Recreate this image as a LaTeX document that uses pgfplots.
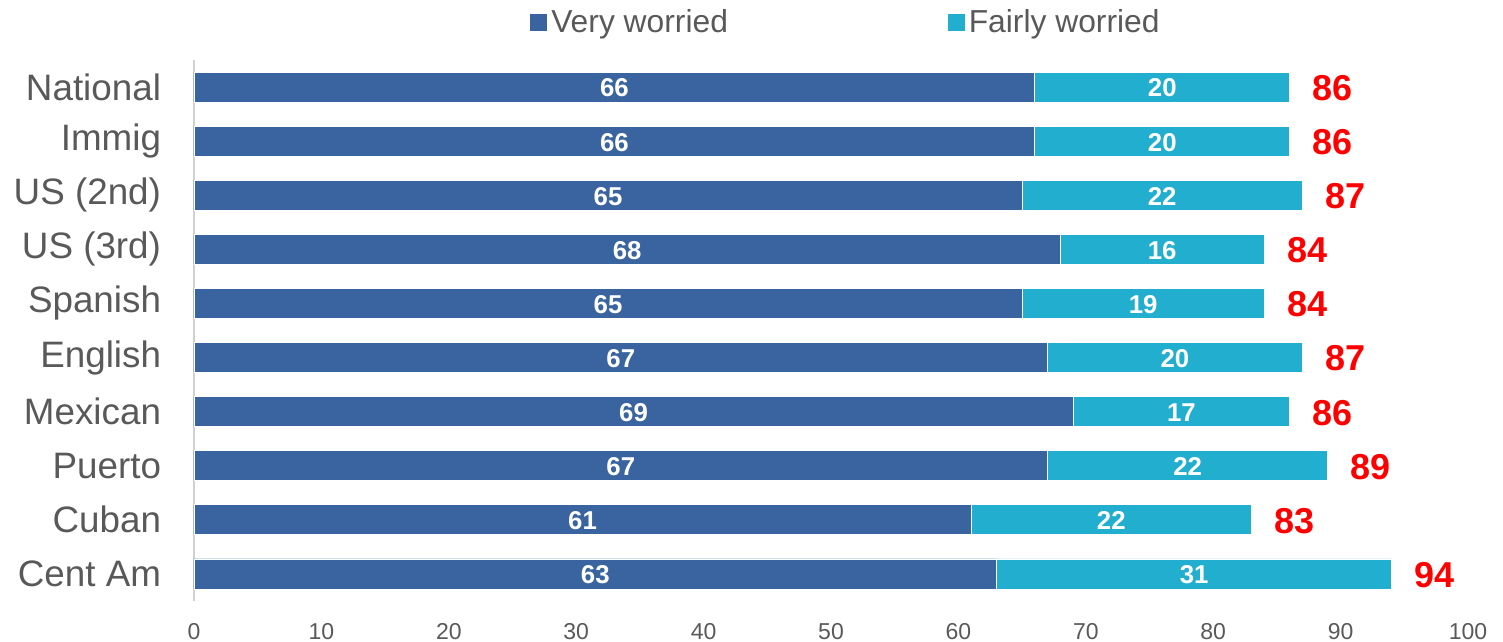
\documentclass[border=0pt]{standalone}
\usepackage{pgfplots}
\pgfplotsset{compat=1.18}
\usepackage{pgfplotstable}
\usepackage{fontspec}
\setmainfont{Liberation Sans}
\definecolor{vw}{HTML}{3A64A0}
\definecolor{fw}{HTML}{21AECF}
\definecolor{txt}{HTML}{595959}
\pgfplotstableread{
very fairly total
66 20 86
66 20 86
65 22 87
68 16 84
65 19 84
67 20 87
69 17 86
67 22 89
61 22 83
63 31 94
}\datatable
\begin{document}
\begin{tikzpicture}
\begin{axis}[
  scale only axis, width=637pt, height=270.5pt,
  xmin=0, xmax=100, ymin=-0.5, ymax=9.5, y dir=reverse,
  xtick={0,10,...,100}, ytick={0,...,9},
  yticklabels={National,Immig,{US (2nd)},{US (3rd)},Spanish,English,Mexican,Puerto,Cuban,{Cent Am}},
  major tick length=0pt,
  axis x line*=bottom, axis y line*=left,
  x axis line style={draw=none},
  y axis line style={draw=black!18, line width=0.8pt},
  tick label style={text=txt},
  xticklabel style={font=\fontsize{11.5}{13}\selectfont, inner sep=0pt, yshift=-10.8pt},
  yticklabel style={font=\fontsize{18.4}{21}\selectfont, inner sep=0pt, xshift=-16.3pt},
  /pgf/number format/assume math mode=true,
  legend style={at={(0.5126,1.070)}, anchor=center, draw=none, fill=none,
    legend columns=2, font=\fontsize{15.9}{18}\selectfont, text=txt,
    /tikz/every even column/.append style={column sep=108pt},
    legend cell align=left},
  clip=false,
]
\addplot[xbar, bar width=15pt, bar shift=0pt, fill=fw, draw=white, line width=0.4pt, forget plot]
  table[x=total, y expr=\coordindex]{\datatable};
\addplot[xbar, bar width=15pt, bar shift=0pt, fill=vw, draw=white, line width=0.4pt, forget plot]
  table[x=very, y expr=\coordindex]{\datatable};
\addplot[draw=none, mark=none, forget plot, nodes near coords, point meta=explicit symbolic,
  every node near coord/.append style={anchor=center, yshift=-0.5pt, text=white, font=\bfseries\fontsize{12.9}{14}\selectfont}]
  table[x expr=\thisrow{very}/2, y expr=\coordindex, meta=very]{\datatable};
\addplot[draw=none, mark=none, forget plot, nodes near coords, point meta=explicit symbolic,
  every node near coord/.append style={anchor=center, yshift=-0.5pt, text=white, font=\bfseries\fontsize{12.9}{14}\selectfont}]
  table[x expr=\thisrow{very}+\thisrow{fairly}/2, y expr=\coordindex, meta=fairly]{\datatable};
\addplot[draw=none, mark=none, forget plot, nodes near coords, point meta=explicit symbolic,
  every node near coord/.append style={anchor=west, xshift=8pt, yshift=-0.5pt, text=red, font=\bfseries\fontsize{18}{20}\selectfont}]
  table[x=total, y expr=\coordindex, meta=total]{\datatable};
\addlegendimage{legend image code/.code={\fill[vw] (0pt,-4pt) rectangle (8pt,4pt);}}
\addlegendentry{Very worried}
\addlegendimage{legend image code/.code={\fill[fw] (0pt,-4pt) rectangle (8pt,4pt);}}
\addlegendentry{Fairly worried}
\end{axis}
\pgfresetboundingbox
\path[use as bounding box] ([shift={(-97pt,-20.5pt)}]current axis.south west) rectangle ([shift={(17.5pt,30pt)}]current axis.north east);
\end{tikzpicture}
\end{document}
